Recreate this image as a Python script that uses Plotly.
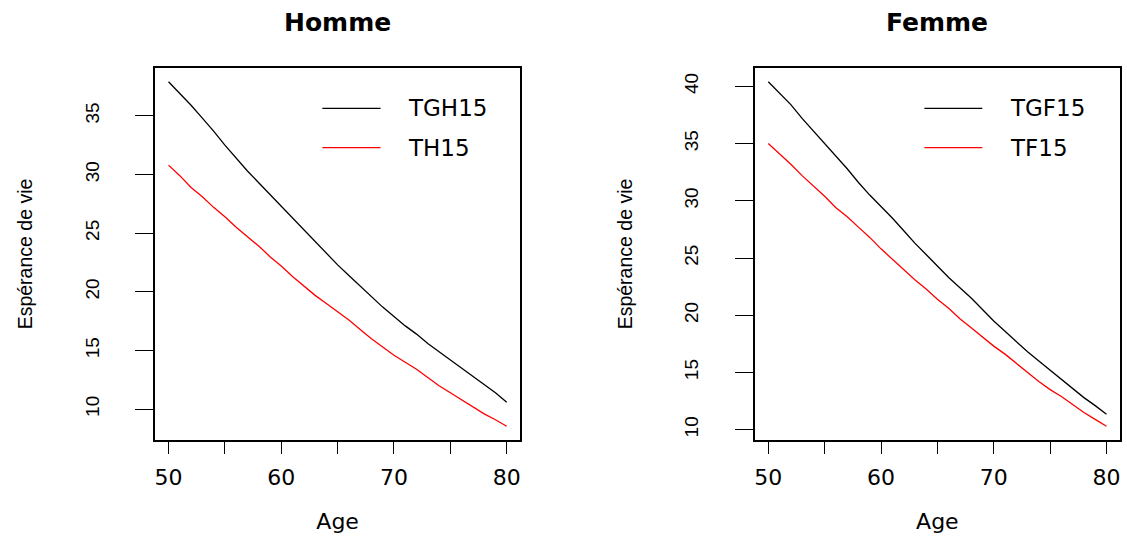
import plotly.graph_objects as go

# ---------------- data ----------------
ages = [50, 51, 52, 53, 54, 55, 56, 57, 58, 59, 60, 61, 62, 63, 64, 65,
        66, 67, 68, 69, 70, 71, 72, 73, 74, 75, 76, 77, 78, 79, 80]

TGH15 = [37.9, 36.9, 35.9, 34.8, 33.7, 32.5, 31.4, 30.3, 29.3, 28.3, 27.3,
         26.3, 25.3, 24.3, 23.3, 22.3, 21.4, 20.5, 19.6, 18.7, 17.9, 17.1,
         16.4, 15.6, 14.9, 14.2, 13.5, 12.8, 12.1, 11.4, 10.6]
TH15 = [30.8, 29.9, 28.9, 28.1, 27.2, 26.4, 25.5, 24.7, 23.9, 23.0, 22.2,
        21.3, 20.5, 19.7, 19.0, 18.3, 17.6, 16.8, 16.0, 15.3, 14.6, 14.0,
        13.4, 12.7, 12.0, 11.4, 10.8, 10.2, 9.6, 9.1, 8.55]
TGF15 = [40.4, 39.4, 38.4, 37.2, 36.1, 35.0, 33.9, 32.8, 31.6, 30.5, 29.5,
         28.5, 27.4, 26.3, 25.3, 24.3, 23.3, 22.4, 21.5, 20.5, 19.5, 18.6,
         17.7, 16.8, 16.0, 15.2, 14.4, 13.6, 12.8, 12.1, 11.35]
TF15 = [35.0, 34.1, 33.2, 32.2, 31.3, 30.4, 29.4, 28.6, 27.7, 26.8, 25.8,
        24.9, 24.0, 23.1, 22.3, 21.4, 20.6, 19.7, 18.9, 18.1, 17.3, 16.6,
        15.8, 15.0, 14.2, 13.5, 12.9, 12.2, 11.5, 10.9, 10.3]

panel_titles = ["Homme", "Femme"]
series_names = [["TGH15", "TH15"], ["TGF15", "TF15"]]
series_colors = ["#000000", "#FF0000"]

x_tickvals = [50, 55, 60, 65, 70, 75, 80]
x_ticktext = ["50", "", "60", "", "70", "", "80"]
y_tickvals_h = [10, 15, 20, 25, 30, 35]
y_tickvals_f = [10, 15, 20, 25, 30, 35, 40]
x_title = "Age"
y_title = "Espérance de vie"

# ---------------- helpers ----------------
def r_range(vals):
    lo, hi = min(vals), max(vals)
    d = (hi - lo) * 0.04
    return [lo - d, hi + d]

W, H = 1127, 536
ML, MR, MT, MB = 155, 5, 68, 96
PW = W - ML - MR
left_dom = [0, (521 - ML) / PW]
right_dom = [(756 - ML) / PW, 1]

HFONT = "DejaVu Sans"
RFONT = "Liberation Sans, Arial, sans-serif"

fig = go.Figure()

panels = [
    (TGH15, TH15, "x", "y"),
    (TGF15, TF15, "x2", "y2"),
]
for i, (s1, s2, xa, ya) in enumerate(panels):
    for j, s in enumerate([s1, s2]):
        fig.add_trace(go.Scatter(
            x=ages, y=s, mode="lines", name=series_names[i][j],
            line=dict(color=series_colors[j], width=1.3),
            xaxis=xa, yaxis=ya, showlegend=False, hoverinfo="x+y+name"))

common_x = dict(
    range=r_range(ages), tickvals=x_tickvals, ticktext=x_ticktext,
    showline=True, mirror=True, linecolor="#000000", linewidth=1.5,
    ticks="outside", ticklen=12, tickwidth=1.3, tickcolor="#000000",
    showgrid=False, zeroline=False, ticklabelstandoff=5,
    tickfont=dict(family=HFONT, size=22, color="#000000"),
    title=dict(text=x_title, standoff=24,
               font=dict(family=HFONT, size=22, color="#000000")),
    fixedrange=True,
)
common_y = dict(
    showline=True, mirror=True, linecolor="#000000", linewidth=1.5,
    ticks="outside", ticklen=18, tickwidth=1.3, tickcolor="#000000",
    showgrid=False, zeroline=False, tickangle=-90, ticklabelstandoff=29,
    tickfont=dict(family=RFONT, size=19, color="#000000"),
    title=dict(text=y_title, standoff=44,
               font=dict(family=RFONT, size=19.5, color="#000000")),
    fixedrange=True,
)

fig.update_layout(
    width=W, height=H,
    margin=dict(l=ML, r=MR, t=MT, b=MB),
    paper_bgcolor="#FFFFFF", plot_bgcolor="#FFFFFF",
    xaxis=dict(domain=left_dom, anchor="y", **common_x),
    yaxis=dict(domain=[0, 1], anchor="x", range=r_range(TGH15 + TH15),
               tickvals=y_tickvals_h, **common_y),
    xaxis2=dict(domain=right_dom, anchor="y2", **common_x),
    yaxis2=dict(domain=[0, 1], anchor="x2", range=r_range(TGF15 + TF15),
                tickvals=y_tickvals_f, **common_y),
    showlegend=False,
)

# titles
PH = H - MT - MB
for i, xa in enumerate(["x", "x2"]):
    fig.add_annotation(
        text="<b>" + panel_titles[i] + "</b>", xref=xa + " domain", x=0.5,
        yref="paper", y=(H - MB - 22) / PH, xanchor="center", yanchor="middle",
        showarrow=False, font=dict(family=HFONT, size=25, color="#000000"))

# legends (R style, no box)
leg = [
    # (xref, line x0, line x1, text x) in domain fractions
    ("x", (322.7 - 155) / 366, (381 - 155) / 366, (406.7 - 155) / 366),
    ("x2", (926 - 756) / 366, (984 - 756) / 366, (1010 - 756) / 366),
]
leg_y = [(440 - 108.3) / 372, (440 - 147.7) / 372]
for i, (xa, lx0, lx1, tx) in enumerate(leg):
    ya = "y" if xa == "x" else "y2"
    for j in range(2):
        fig.add_shape(type="line", xref=xa + " domain", yref=ya + " domain",
                      x0=lx0, x1=lx1, y0=leg_y[j], y1=leg_y[j],
                      line=dict(color=series_colors[j], width=1.3))
        fig.add_annotation(text=series_names[i][j], xref=xa + " domain",
                           yref=ya + " domain", x=tx, y=leg_y[j],
                           xanchor="left", yanchor="middle", showarrow=False,
                           font=dict(family=HFONT, size=23, color="#000000"))

fig.write_html("out.html", config={"displayModeBar": False})
